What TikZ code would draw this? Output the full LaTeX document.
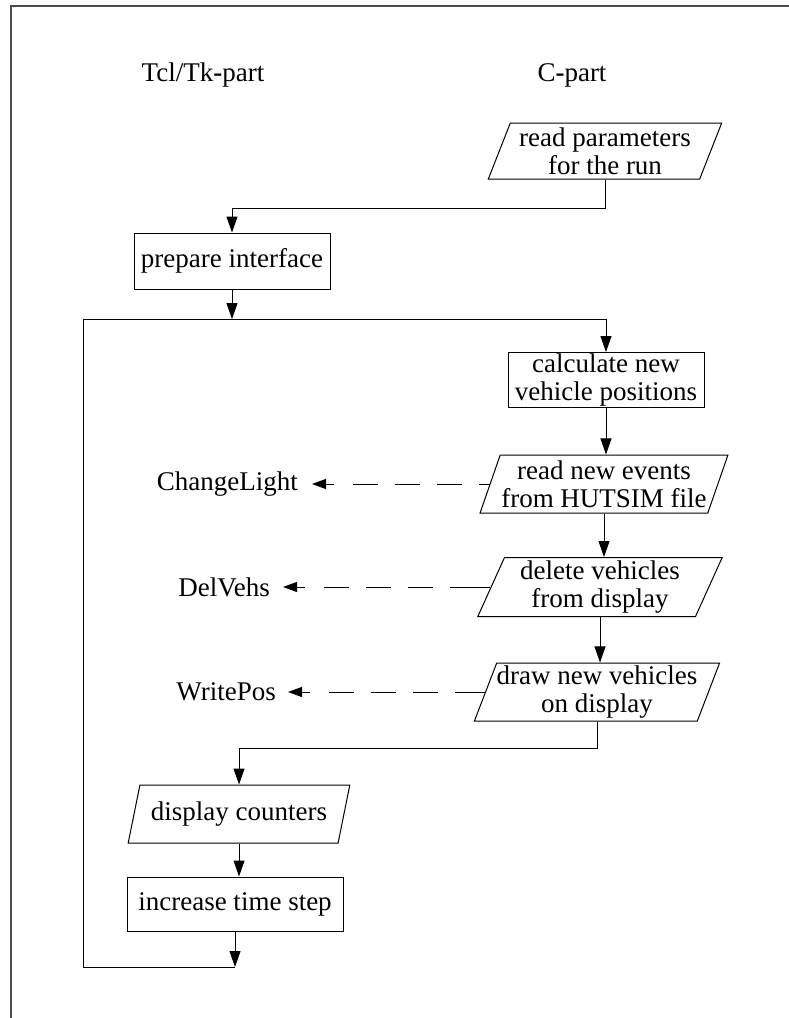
\documentclass[tikz,border=0pt]{standalone}
\usepackage{fontspec}
\setmainfont{Liberation Serif}
\usetikzlibrary{shapes.geometric,arrows.meta}
\begin{document}
\begin{tikzpicture}[x=1pt,y=-1pt,
  every node/.style={font=\fontsize{27}{28}\selectfont, align=center, inner sep=0pt},
  procbox/.style={draw, line width=1pt, rectangle},
  iobox/.style={draw, line width=1pt, trapezium, trapezium left angle=67,
    trapezium right angle=113, trapezium stretches=true},
  flow/.style={line width=1pt, -{Triangle[length=16pt,width=11pt]}},
  link/.style={line width=1pt},
  call/.style={line width=1pt,
    dash pattern=on 8pt off 19pt on 25pt off 17pt on 25pt off 17pt on 25pt off 17pt on 40pt off 17pt,
    {Triangle[length=14pt,width=10pt]}-},
  frame/.style={line width=2pt, draw=black!70}
]
\useasboundingbox (0,0) rectangle (789,1018);
\draw[frame] (11,1018) -- (11,6) -- (789,6);

% column headings
\node (tcl) at (203,75) {Tcl/Tk\textbf{-}part};
\node (cpart) at (572,75) {C\textbf{-}part};

% flow chart nodes
\node[iobox, minimum width=234pt, minimum height=56pt] (rp) at (605,151)
  {read parameters\\for the run};
\node[procbox, minimum width=196pt, minimum height=56pt] (pi) at (232,261)
  {prepare interface};
\node[procbox, minimum width=196pt, minimum height=55pt] (cnp) at (606,380)
  {calculate new\\vehicle positions};
\node[iobox, minimum width=248pt, minimum height=58pt] (rne) at (604,484)
  {read new events\\from HUTSIM file};
\node[iobox, minimum width=245pt, minimum height=59pt] (dv) at (600,587)
  {delete vehicles\\from display};
\node[iobox, minimum width=246pt, minimum height=58pt] (dnv) at (597,692)
  {draw new vehicles\\on display};
\node[iobox, minimum width=222pt, minimum height=58pt] (dc) at (239,814)
  {display counters};
\node[procbox, minimum width=216pt, minimum height=54pt] (its) at (235,904)
  {increase time step};

% Tcl/Tk procedures called from C
\node[anchor=east] (cl) at (298,484) {ChangeLight};
\node[anchor=east] (dvh) at (270,587) {DelVehs};
\node[anchor=east] (wp) at (276,692) {WritePos};

% main loop corners
\coordinate (lt) at (83,319);
\coordinate (lb) at (83,967);

% connectors
\draw[link] (rp.south) -- ++(0,29) coordinate (rpk);
\draw[flow] (rpk) -| (pi.north);
\draw[flow] (pi.south) -- (pi.south |- lt);
\draw[flow] (lt) -| (cnp.north);
\draw[flow] (cnp.south) -- (cnp.south |- rne.north);
\draw[flow] (rne.south) -- (rne.south |- dv.north);
\draw[flow] (dv.south) -- (dv.south |- dnv.north);
\draw[link] (dnv.south) -- ++(0,27) coordinate (dnk);
\draw[flow] (dnk) -| (dc.north);
\draw[flow] (dc.south) -- (dc.south |- its.north);
\draw[flow] (its.south) -- (its.south |- lb);
\draw[link] (its.south |- lb) -- (lb) -- (lt);

% calls into the Tcl/Tk part
\draw[call, shorten <=14pt] (rne.west -| cl.east) -- (rne.west);
\draw[call, shorten <=13pt] (dv.west -| dvh.east) -- (dv.west);
\draw[call, shorten <=12pt] (dnv.west -| wp.east) -- (dnv.west);
\end{tikzpicture}
\end{document}
